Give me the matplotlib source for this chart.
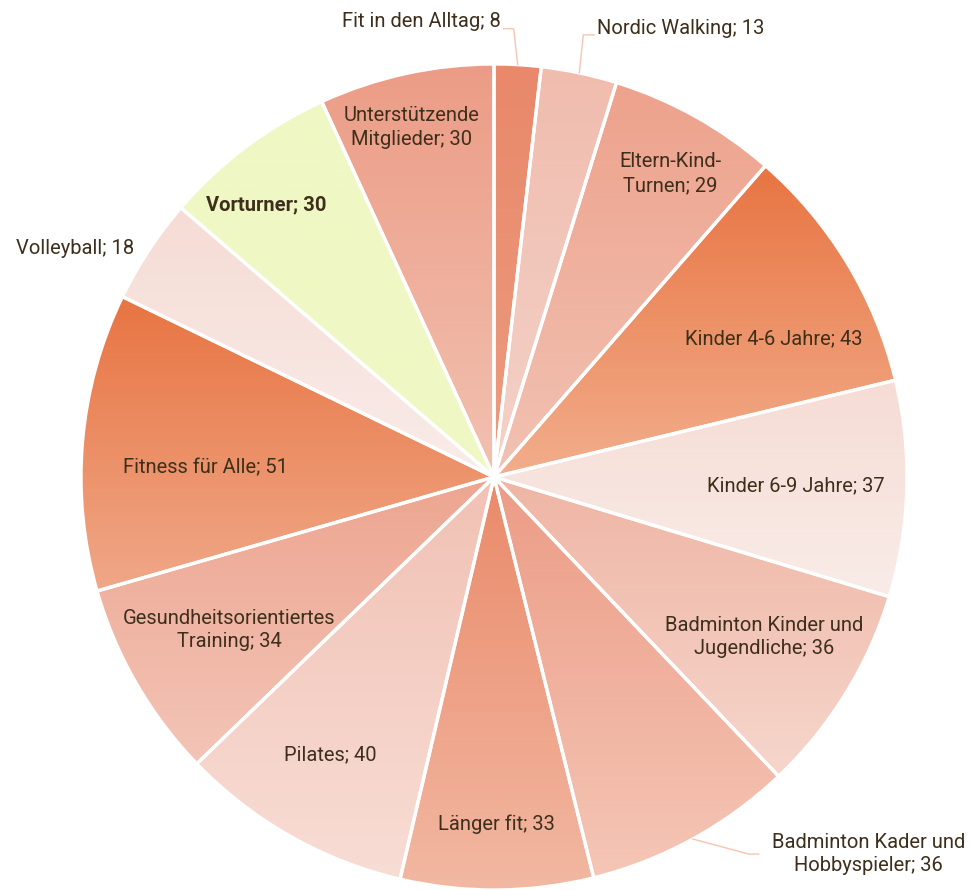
import numpy as np
import matplotlib
matplotlib.use("Agg")
import matplotlib.pyplot as plt
from matplotlib.colors import to_rgb

categories = ["Fit in den Alltag", "Nordic Walking", "Eltern-Kind-\nTurnen", "Kinder 4-6 Jahre",
              "Kinder 6-9 Jahre", "Badminton Kinder und\nJugendliche", "Badminton Kader und\nHobbyspieler",
              "Länger fit", "Pilates", "Gesundheitsorientiertes\nTraining", "Fitness für Alle",
              "Volleyball", "Vorturner", "Unterstützende\nMitglieder"]
values = [8, 13, 29, 43, 37, 36, 36, 33, 40, 34, 51, 18, 30, 30]

top_colors = ["#e9886a", "#f0bcae", "#eda28c", "#e87442", "#f6dcd5", "#efb5a4", "#ec9c86",
              "#ea8a6a", "#f1c1b4", "#eda590", "#e87442", "#f6dcd5", "#eff8c4", "#ec9c86"]
bot_colors = ["#ec9c80", "#f4d2c8", "#f2c2b3", "#f2ae8c", "#f9ece8", "#f6d6cc", "#f5c6b6",
              "#f2b8a2", "#f8ddd5", "#f3c5b7", "#f0a888", "#f9ece9", "#eff8c4", "#f2c1b1"]

# label placement: (radius fraction, angle offset deg) for inside labels; None -> outside
label_pos = [None, None, (0.85, 1), (0.755, 5), (0.73, 0), (0.76, -1), None,
             (0.84, 0), (0.78, 1), (0.74, 0), (0.70, -3), None, (0.86, -3), (0.87, -1)]

TXT = "#3d2f1b"
LEAD = "#f6c5b2"
plt.rcParams['font.family'] = ['Roboto', 'DejaVu Sans']

W, H = 971, 890
fig = plt.figure(figsize=(W / 100, H / 100), dpi=100)
ax = fig.add_axes([0, 0, 1, 1])

cx, cy, R = 494, 413, 413
wedges, _ = ax.pie(values, startangle=90, counterclock=False, center=(cx, cy), radius=R,
                   wedgeprops=dict(linewidth=0, edgecolor='none'), frame=True)

for w, tc, bc in zip(wedges, top_colors, bot_colors):
    w.set_facecolor('none')
    ext = w.get_path().get_extents()
    n = 256
    t = np.linspace(0, 1, n)[:, None]
    c0 = np.array(to_rgb(tc)); c1 = np.array(to_rgb(bc))
    img = (c0[None, None, :] * (1 - t[:, :, None]) + c1[None, None, :] * t[:, :, None])
    img = np.repeat(img, 2, axis=1)
    im = ax.imshow(img, extent=(ext.x0, ext.x1, ext.y0, ext.y1), origin='upper',
                   aspect='auto', zorder=1, interpolation='bilinear')
    im.set_clip_path(w)

# white separators
ax.pie(values, startangle=90, counterclock=False, center=(cx, cy), radius=R,
       wedgeprops=dict(linewidth=2.4, edgecolor='white', facecolor='none', zorder=3), frame=True)
ax.set_xlim(0, W)
ax.set_ylim(0, H)
ax.axis('off')

total = sum(values)
cum = np.cumsum([0] + values)
fs = 14.5
for i, (lab, v) in enumerate(zip(categories, values)):
    mid = (cum[i] + v / 2) / total * 360.0
    text = f"{lab}; {v}"
    weight = 'bold' if lab == "Vorturner" else 'normal'
    if label_pos[i] is not None:
        rf, off = label_pos[i]
        a = np.deg2rad(90 - (mid + off))
        x = cx + rf * R * np.cos(a)
        y = cy + rf * R * np.sin(a)
        ax.text(x, y, text, ha='center', va='center', fontsize=fs, color=TXT,
                weight=weight, linespacing=1.3, zorder=5)

def edge_pt(i):
    mid = (cum[i] + values[i] / 2) / total * 360.0
    a = np.deg2rad(90 - mid)
    return cx + R * np.cos(a), cy + R * np.sin(a)

# Fit in den Alltag
ex, ey = edge_pt(0)
ax.plot([ex, ex - 4, ex - 14], [ey, ey + 36, ey + 36], color=LEAD, lw=1.0, zorder=4)
ax.text(ex - 17, ey + 43, f"{categories[0]}; {values[0]}", ha='right', va='center',
        fontsize=fs, color=TXT)
# Nordic Walking
ex, ey = edge_pt(1)
ax.plot([ex, ex + 4, ex + 15], [ey, ey + 38, ey + 38], color=LEAD, lw=1.0, zorder=4)
ax.text(ex + 18, ey + 44, f"{categories[1]}; {values[1]}", ha='left', va='center',
        fontsize=fs, color=TXT)
# Volleyball
ex, ey = edge_pt(11)
ax.text(75, ey + 2, f"{categories[11]}; {values[11]}", ha='center', va='center',
        fontsize=fs, color=TXT)
# Badminton Kader
ex, ey = edge_pt(6)
ax.plot([ex, ex + 56, ex + 66], [ey, ey - 15, ey - 15], color=LEAD, lw=1.0, zorder=4)
ax.text(ex + 176, ey - 15, f"{categories[6]}; {values[6]}", ha='center', va='center',
        fontsize=fs, color=TXT, linespacing=1.3)

fig.savefig("out.png", dpi=100)
